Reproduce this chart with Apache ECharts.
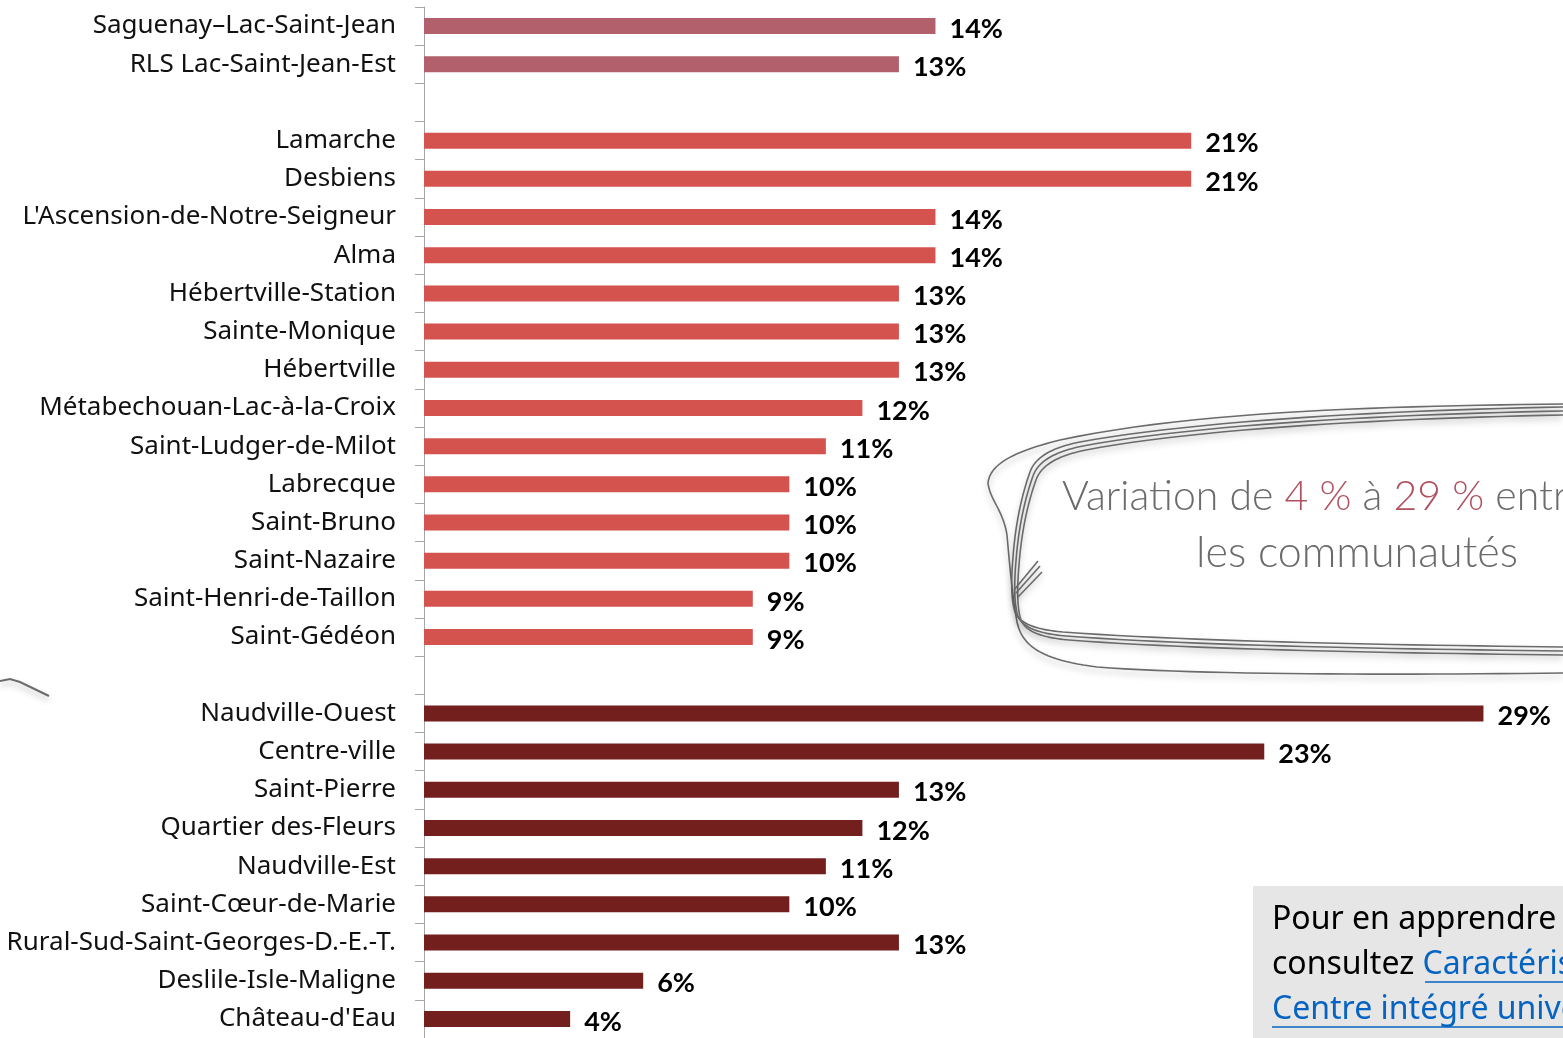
<!DOCTYPE html>
<html><head><meta charset="utf-8">
<script src="https://cdn.jsdelivr.net/npm/echarts@6/dist/echarts.min.js"></script>
<style>html,body{margin:0;padding:0;background:#fff;overflow:hidden}#c{width:1563px;height:1038px}</style>
</head><body><div id="c"></div>
<script>
const categories = [
  'Saguenay–Lac-Saint-Jean','RLS Lac-Saint-Jean-Est',' ',
  'Lamarche','Desbiens',"L'Ascension-de-Notre-Seigneur",'Alma','Hébertville-Station','Sainte-Monique','Hébertville','Métabechouan-Lac-à-la-Croix','Saint-Ludger-de-Milot','Labrecque','Saint-Bruno','Saint-Nazaire','Saint-Henri-de-Taillon','Saint-Gédéon','  ',
  'Naudville-Ouest','Centre-ville','Saint-Pierre','Quartier des-Fleurs','Naudville-Est','Saint-Cœur-de-Marie','Rural-Sud-Saint-Georges-D.-E.-T.','Deslile-Isle-Maligne',"Château-d'Eau"
];
const regionValues = [14,13,null, null,null,null,null,null,null,null,null,null,null,null,null,null,null,null, null,null,null,null,null,null,null,null,null];
const communityValues = [null,null,null, 21,21,14,14,13,13,13,12,11,10,10,10,9,9,null, null,null,null,null,null,null,null,null,null];
const quarterValues = [null,null,null, null,null,null,null,null,null,null,null,null,null,null,null,null,null,null, 29,23,13,12,11,10,13,6,4];

const colors = ['#B2606B','#D4534F','#731F1E'];

// sample a cubic-bezier outline (decoration only) into polyline points
function curve(start, segs) {
  const pts = [start.slice()];
  let p0 = start;
  segs.forEach(s => {
    const [c1x,c1y,c2x,c2y,x,y] = s;
    for (let i = 1; i <= 24; i++) {
      const t = i/24, u = 1-t;
      pts.push([u*u*u*p0[0]+3*u*u*t*c1x+3*u*t*t*c2x+t*t*t*x, u*u*u*p0[1]+3*u*u*t*c1y+3*u*t*t*c2y+t*t*t*y]);
    }
    p0 = [x,y];
  });
  return pts;
}
const ls = {stroke:'#6b6b6b', fill:null, lineWidth:1.6, shadowBlur:6, shadowColor:'rgba(0,0,0,0.28)', shadowOffsetY:4};
function loop(dy, dx) {
  return {type:'polyline', z:10, shape:{points: curve([1563,407+dy], [
    [1400,410+dy,1200,420+dy,1080+dx,442+dy],
    [1050+dx,448+dy,1035+dx,458+dy,1030+dx,472+dy],
    [1020+dx,500+dy,1015+dx,530+dy,1013+dx,557+dy],
    [1011+dx,580+dy,1011+dx,600+dy,1015+dx,612+dy],
    [1020+dx,625+dy,1040+dx,630+dy,1063+dx,632+dy],
    [1200,642+dy,1400,645+dy,1563,647+dy]])}, style:ls};
}

const chart = echarts.init(document.getElementById('c'));
const lbl = {show:true, position:'right', distance:14, offset:[0,3], fontFamily:'Lato', fontWeight:'bold', fontSize:27, color:'#000', formatter: p => p.value + '%'};
const mk = (name, data, color) => ({name, type:'bar', data, stack:'s', barWidth:16, itemStyle:{color}, label:lbl, animation:false});
const info = {fontFamily:'Noto Sans', fontSize:32};
chart.setOption({
  animation:false,
  grid:{left:424, right:43, top:7, bottom:-3},
  xAxis:{type:'value', min:0, max:30, show:false},
  yAxis:{type:'category', data:categories, inverse:true,
    axisLine:{lineStyle:{color:'#a6a6a6', width:1}},
    axisTick:{show:true, length:9, lineStyle:{color:'#a6a6a6'}},
    axisLabel:{fontFamily:'Noto Sans', fontSize:26, color:'#111', margin:28, padding:[3,0,0,0]}},
  series:[mk('Région',regionValues,colors[0]), mk('Communautés',communityValues,colors[1]), mk('Quartiers',quarterValues,colors[2])],
  graphic:[
    {type:'polyline', z:10, shape:{points: curve([1563,404], [
      [1400,406,1200,410,1060,440],
      [1020,450,990,462,988,483],
      [990,500,1003,510,1007,535],
      [1010,570,1013,600,1017,622],
      [1022,645,1040,660,1097,667],
      [1200,675,1400,675,1563,673]])}, style:ls},
    loop(0,0), loop(4,3), loop(8,6),
    {type:'line', z:10, shape:{x1:1038,y1:561,x2:1014,y2:590}, style:ls},
    {type:'line', z:10, shape:{x1:1040,y1:566,x2:1016,y2:593}, style:ls},
    {type:'line', z:10, shape:{x1:1042,y1:572,x2:1018,y2:597}, style:ls},
    {type:'polyline', z:10, shape:{points:[[0,681],[10,679],[20,682],[49,696]]}, style:{stroke:'#6b6b6b', fill:null, lineWidth:2, shadowBlur:6, shadowColor:'rgba(0,0,0,0.28)', shadowOffsetY:4}},
    {type:'text', left:1062, top:476, z:11, style:{text:'{g|Variation de }{r|4 %}{g| à }{r|29 %}{g| entre}', rich:{g:{fontFamily:'Lato', fontWeight:300, fontSize:41, fill:'#6b6b6b'}, r:{fontFamily:'Lato', fontWeight:300, fontSize:41, fill:'#B0505E'}}}},
    {type:'text', left:1196, top:532, z:11, style:{text:'les communautés', fontFamily:'Lato', fontWeight:300, fontSize:43, fill:'#6b6b6b'}},
    {type:'rect', shape:{x:1253, y:886, width:320, height:160}, style:{fill:'#e6e6e6'}, z:5},
    {type:'text', left:1272, top:904, z:6, style:Object.assign({text:'Pour en apprendre davantage,', fill:'#000'}, info)},
    {type:'text', left:1272, top:949, z:6, style:{text:'{k|consultez }{l|Caractéristiques}', rich:{k:Object.assign({fill:'#000'}, info), l:Object.assign({fill:'#0563C1'}, info)}}},
    {type:'text', left:1272, top:994, z:6, style:Object.assign({text:'Centre intégré universitaire', fill:'#0563C1'}, info)},
    {type:'line', shape:{x1:1425, y1:982, x2:1563, y2:982}, style:{stroke:'#0563C1', lineWidth:1.5}, z:6},
    {type:'line', shape:{x1:1272, y1:1027, x2:1563, y2:1027}, style:{stroke:'#0563C1', lineWidth:1.5}, z:6}
  ]
});
</script></body></html>
